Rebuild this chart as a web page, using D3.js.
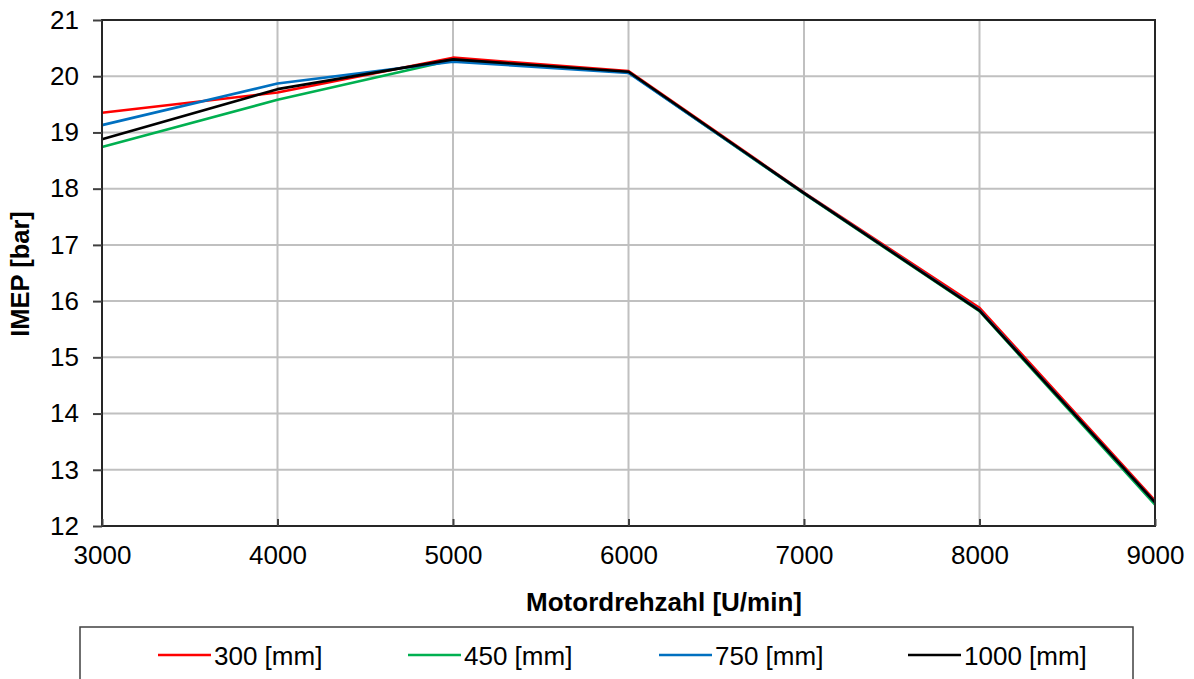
<!DOCTYPE html>
<html>
<head>
<meta charset="utf-8">
<script src="https://cdn.jsdelivr.net/npm/d3@7/dist/d3.min.js"></script>
<style>
  html, body { margin: 0; padding: 0; background: #fff; }
  svg { display: block; font-family: "Liberation Sans", Arial, sans-serif; }
</style>
</head>
<body>
<svg id="chart" width="1194" height="679"></svg>
<script>
// Engine speed [U/min]
const speeds = [3000, 4000, 5000, 6000, 7000, 8000, 9000];

// IMEP [bar] per intake runner length
const imep300  = [19.35, 19.71, 20.33, 20.09, 17.93, 15.88, 12.45];
const imep450  = [18.74, 19.58, 20.29, 20.07, 17.91, 15.82, 12.38];
const imep750  = [19.13, 19.87, 20.26, 20.06, 17.92, 15.84, 12.42];
const imep1000 = [18.88, 19.77, 20.30, 20.08, 17.92, 15.83, 12.42];

const seriesNames = ["300 [mm]", "450 [mm]", "750 [mm]", "1000 [mm]"];
const seriesValues = [imep300, imep450, imep750, imep1000];
const seriesColors = ["#ff0000", "#00b050", "#0070c0", "#000000"];

const xTicks = [3000, 4000, 5000, 6000, 7000, 8000, 9000];
const yTicks = [12, 13, 14, 15, 16, 17, 18, 19, 20, 21];

const svg = d3.select("#chart");
const plot = { left: 102, right: 1155, top: 20, bottom: 526 };

const x = d3.scaleLinear().domain([3000, 9000]).range([plot.left, plot.right]);
const y = d3.scaleLinear().domain([12, 21]).range([plot.bottom, plot.top]);

// Grid lines
const grid = svg.append("g");
grid.selectAll("line.gy").data(yTicks).join("line")
  .attr("x1", plot.left).attr("x2", plot.right)
  .attr("y1", d => y(d)).attr("y2", d => y(d))
  .attr("stroke", "#c0c0c0").attr("stroke-width", 2);
grid.selectAll("line.gx").data(xTicks).join("line")
  .attr("y1", plot.top).attr("y2", plot.bottom)
  .attr("x1", d => x(d)).attr("x2", d => x(d))
  .attr("stroke", "#c0c0c0").attr("stroke-width", 2);

// Series lines
const line = d3.line().x((d, i) => x(speeds[i])).y(d => y(d));
seriesValues.forEach((vals, k) => {
  svg.append("path").datum(vals)
    .attr("d", line)
    .attr("fill", "none")
    .attr("stroke", seriesColors[k])
    .attr("stroke-width", 2.6)
    .attr("stroke-linejoin", "round");
});

// Plot frame
svg.append("rect")
  .attr("x", plot.left).attr("y", plot.top)
  .attr("width", plot.right - plot.left).attr("height", plot.bottom - plot.top)
  .attr("fill", "none").attr("stroke", "#262626").attr("stroke-width", 2);

// Y axis
const yAxis = svg.append("g")
  .attr("transform", `translate(${plot.left},0)`)
  .call(d3.axisLeft(y).tickValues(yTicks).tickSize(9).tickPadding(14).tickFormat(d3.format("d")));
yAxis.select(".domain").remove();
yAxis.selectAll(".tick line").attr("stroke", "#404040").attr("stroke-width", 2);
yAxis.selectAll(".tick text").attr("font-size", 26).attr("fill", "#000")
  .attr("font-family", "Liberation Sans, Arial, sans-serif");

// X axis
const xAxis = svg.append("g")
  .attr("transform", `translate(0,${plot.bottom})`)
  .call(d3.axisBottom(x).tickValues(xTicks).tickSize(-7).tickPadding(20).tickFormat(d3.format("d")));
xAxis.select(".domain").remove();
xAxis.selectAll(".tick line").attr("stroke", "#404040").attr("stroke-width", 2);
xAxis.selectAll(".tick text").attr("font-size", 26).attr("fill", "#000")
  .attr("font-family", "Liberation Sans, Arial, sans-serif");

// Axis titles
svg.append("text")
  .attr("x", 664).attr("y", 611)
  .attr("text-anchor", "middle")
  .attr("font-size", 26).attr("font-weight", "bold")
  .text("Motordrehzahl [U/min]");

svg.append("text")
  .attr("transform", "translate(29,274) rotate(-90)")
  .attr("text-anchor", "middle")
  .attr("font-size", 25.5).attr("font-weight", "bold")
  .text("IMEP [bar]");

// Legend
svg.append("rect")
  .attr("x", 80).attr("y", 627).attr("width", 1053).attr("height", 70)
  .attr("fill", "#fff").attr("stroke", "#404040").attr("stroke-width", 1.5);

const legendX = [158, 408, 659, 908];
const legend = svg.append("g");
seriesNames.forEach((name, k) => {
  const g = legend.append("g").attr("transform", `translate(${legendX[k]},655)`);
  g.append("line").attr("x1", 0).attr("x2", 53).attr("y1", 0).attr("y2", 0)
    .attr("stroke", seriesColors[k]).attr("stroke-width", 2.6);
  g.append("text").attr("x", 56).attr("y", 10)
    .attr("font-size", 26).text(name);
});
</script>
</body>
</html>
